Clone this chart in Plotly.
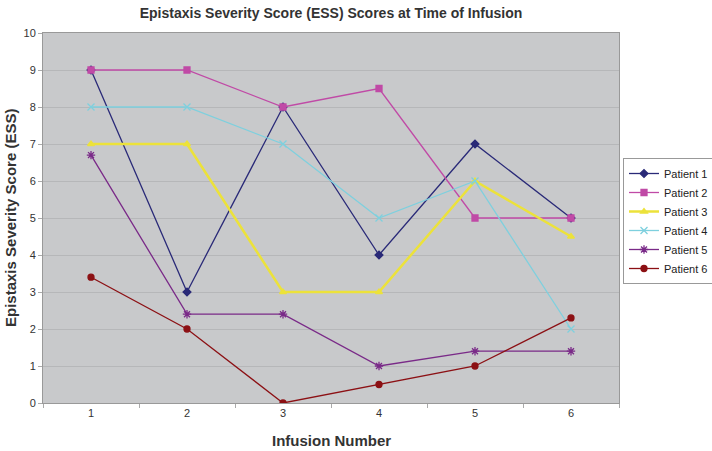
import plotly.graph_objects as go

infusions = ["1", "2", "3", "4", "5", "6"]
patient_names = ["Patient 1", "Patient 2", "Patient 3", "Patient 4", "Patient 5", "Patient 6"]
p1 = [9, 3, 8, 4, 7, 5]
p2 = [9, 9, 8, 8.5, 5, 5]
p3 = [7, 7, 3, 3, 6, 4.5]
p4 = [8, 8, 7, 5, 6, 2]
p5 = [6.7, 2.4, 2.4, 1, 1.4, 1.4]
p6 = [3.4, 2, 0, 0.5, 1, 2.3]
series = [p1, p2, p3, p4, p5, p6]

colors = ["#2a2a78", "#c04aa6", "#ece23a", "#7ed0de", "#7a2a88", "#8c1014"]
symbols = ["diamond", "square", "triangle-up", "x-thin-open", "asterisk-open", "circle"]
widths = [1.3, 1.3, 2.5, 1.3, 1.3, 1.3]
sizes = [6, 6, 6, 7, 7, 6]

L, R, T, B = 43, 93, 33, 48

fig = go.Figure()
for name, vals, c, s, w, sz in zip(patient_names, series, colors, symbols, widths, sizes):
    fig.add_trace(go.Scatter(
        x=infusions, y=vals, name=name, mode="lines+markers",
        line=dict(color=c, width=w),
        marker=dict(symbol=s, color=c, size=sz, line=dict(color=c, width=1.3)),
    ))

fig.update_layout(
    width=712, height=451,
    margin=dict(l=L, r=R, t=T, b=B, autoexpand=False),
    paper_bgcolor="white",
    plot_bgcolor="#c8c9cb",
    font=dict(family="Arial, Liberation Sans, sans-serif", color="#333333"),
    title=dict(text="<b>Epistaxis Severity Score (ESS) Scores at Time of Infusion</b>",
               x=(L + 619) / 2 / 712, xanchor="center", y=1 - 13 / 451, yanchor="middle",
               font=dict(size=14, color="#333333")),
    legend=dict(x=(623 - L) / 576, y=(403 - 158) / 370, xanchor="left", yanchor="top",
                bordercolor="#999999", borderwidth=1, bgcolor="white",
                font=dict(size=11, color="#222222"), tracegroupgap=0,
                itemwidth=30),
    showlegend=True,
    annotations=[
        dict(text="<b>Infusion Number</b>", xref="paper", yref="paper",
             x=0.5, y=-37 / 370, xanchor="center", yanchor="middle", showarrow=False,
             font=dict(size=15, color="#333333")),
        dict(text="<b>Epistaxis Severity Score (ESS)</b>", xref="paper", yref="paper",
             x=-33 / 576, y=0.5, xanchor="center", yanchor="middle", showarrow=False,
             textangle=-90, font=dict(size=15, color="#333333")),
    ],
)
fig.update_xaxes(
    type="category", range=[-0.5, 5.5], tickson="boundaries", automargin=False,
    ticks="outside", ticklen=4, tickcolor="#aaaaaa",
    showgrid=False, showline=True, linecolor="#999999", linewidth=1, mirror=True,
    tickfont=dict(size=11, color="#333333"),
)
fig.update_yaxes(
    range=[0, 10], dtick=1, ticks="outside", ticklen=4, tickcolor="#aaaaaa", automargin=False,
    showgrid=True, gridcolor="#b6b7b9", gridwidth=1, zeroline=False,
    showline=True, linecolor="#999999", linewidth=1, mirror=True,
    tickfont=dict(size=11, color="#333333"),
)

fig.write_html("out.html", post_script="document.body.style.margin='0';",
               config={"displayModeBar": False})
